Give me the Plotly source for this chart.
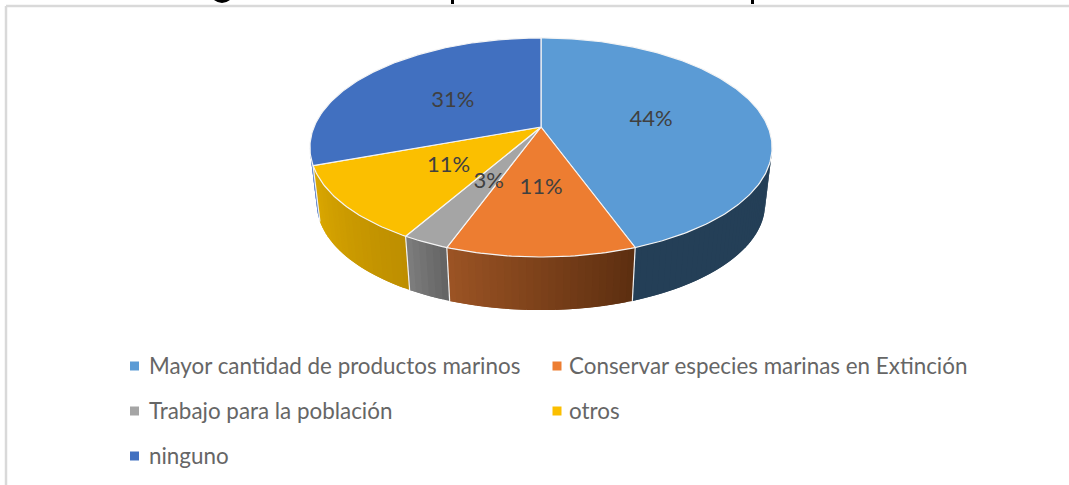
import numpy as np
import plotly.graph_objects as go

# Data
categories = ["Mayor cantidad de productos marinos", "Conservar especies marinas en Extinción",
              "Trabajo para la población", "otros", "ninguno"]
values = [16, 4, 1, 4, 11]
top_colors = ["#5b9bd5", "#ed7d31", "#a5a5a5", "#fbbf00", "#4170c0"]
side_left = ["#243f57", "#9c5424", "#7e7e7e", "#dba800", "#6f8fd0"]
side_right = ["#243f57", "#5c2e10", "#636363", "#bd8e00", "#4170c0"]

# Projection of the tilted disc to page pixels
W, H = 1069, 485
CX, CY, A, B, K = 541, 127, 227, 105.7, 0.187
SCALE2, CY2 = 0.97, 184
SIL_R, SIL_L = 100.8, 259.2
LABEL_FONT = "Lato"
LABEL_DY = 3


def top_xy(theta, r=1.0):
    t = np.radians(theta)
    d = 1 + K * r * np.cos(t)
    return CX + A * r * np.sin(t) / d, CY - B * r * np.cos(t) / d


def low_xy(theta):
    t = np.radians(theta)
    d = 1 + K * np.cos(t)
    return CX + SCALE2 * A * np.sin(t) / d, CY2 - SCALE2 * B * np.cos(t) / d


def hex_rgb(h):
    return np.array([int(h[i:i + 2], 16) for i in (1, 3, 5)], float)


def mix(a, b, f):
    c = hex_rgb(a) * (1 - f) + hex_rgb(b) * f
    return "rgb(%d,%d,%d)" % tuple(c.round())


fig = go.Figure()
total = sum(values)
edges = np.concatenate([[0], np.cumsum(values)]) / total * 360


def poly(xs, ys, fill, line, width, name):
    fig.add_trace(go.Scatter(x=xs, y=ys, mode="lines", fill="toself", fillcolor=fill,
                             line=dict(color=line, width=width), showlegend=False,
                             hoverinfo="skip", name=name))


# Side walls (visible part), shaded strip by strip; each strip overlaps the next so no seams show
for i, cat in enumerate(categories):
    a, b = max(edges[i], SIL_R), min(edges[i + 1], SIL_L)
    if b <= a:
        continue
    steps = max(2, int((b - a) / 1.5))
    grid = np.linspace(a, b, steps + 1)
    for j in range(steps):
        th = np.linspace(grid[j], grid[min(j + 2, steps)], 5)
        tx, ty = top_xy(th)
        lx, ly = low_xy(th)
        col = mix(side_left[i], side_right[i], 1 - (j + 0.5) / steps)
        poly(np.r_[tx, lx[::-1], tx[0]], np.r_[ty, ly[::-1], ty[0]], col, col, 0, cat)
# seams between walls
for e in edges[1:-1]:
    if SIL_R < e < SIL_L:
        tx, ty = top_xy(e)
        lx, ly = low_xy(e)
        fig.add_trace(go.Scatter(x=[tx, lx], y=[ty, ly], mode="lines",
                                 line=dict(color="#f2f2f2", width=1.2),
                                 showlegend=False, hoverinfo="skip"))

# Top face wedges
for i, cat in enumerate(categories):
    th = np.linspace(edges[i], edges[i + 1], max(4, int(values[i] * 11)))
    x, y = top_xy(th)
    poly(np.r_[CX, x, CX], np.r_[CY, y, CY], top_colors[i], "#f4f4f4", 1.2, cat)

# Data labels
mids = (edges[:-1] + edges[1:]) / 2
lx, ly = top_xy(mids, 0.5)
fig.add_trace(go.Scatter(x=lx, y=ly + LABEL_DY, mode="text",
                         text=[f"{round(v / total * 100)}%" for v in values],
                         textposition="middle center",
                         textfont=dict(family=LABEL_FONT, size=22, color="#404040"),
                         showlegend=False, hoverinfo="skip"))

# Legend
leg_x = [134.5, 557, 134.5, 557, 134.5]
leg_y = [366, 366, 411, 411, 456]
leg_tx = [146.5, 567, 146.5, 567, 146.5]
for i, cat in enumerate(categories):
    fig.add_trace(go.Scatter(x=[leg_x[i]], y=[leg_y[i]], mode="markers",
                             marker=dict(symbol="square", size=9, color=top_colors[i]),
                             showlegend=False, hoverinfo="skip", name=cat))
    fig.add_annotation(x=leg_tx[i], y=leg_y[i] - 1, text=cat, showarrow=False, xanchor="left",
                       yanchor="middle", xshift=0,
                       font=dict(family=LABEL_FONT, size=22.4, color="#666666"))

# Frame and the cropped ink of the caption above the chart
ink = dict(color="#000000", width=0)
fig.update_layout(
    width=W, height=H, margin=dict(l=0, r=0, t=0, b=0), autosize=False,
    paper_bgcolor="white", plot_bgcolor="white", showlegend=False,
    xaxis=dict(range=[0, W], visible=False, fixedrange=True),
    yaxis=dict(range=[H, 0], visible=False, fixedrange=True),
    shapes=[
        dict(type="line", x0=6, x1=W, y0=6, y1=6, line=dict(color="#d9d9d9", width=2.5)),
        dict(type="line", x0=6, x1=6, y0=6, y1=H, line=dict(color="#d9d9d9", width=2.5)),
        dict(type="path", path="M 214 0 Q 222 6 230 0 Z", fillcolor="#000000", line=ink),
        dict(type="rect", x0=451, x1=454, y0=0, y1=4, fillcolor="#000000", line=ink),
        dict(type="rect", x0=751, x1=754, y0=0, y1=4, fillcolor="#000000", line=ink),
    ],
)
fig.write_html("out.html", config=dict(displayModeBar=False),
               post_script="document.body.style.margin='0';document.documentElement.style.overflow='hidden';")
